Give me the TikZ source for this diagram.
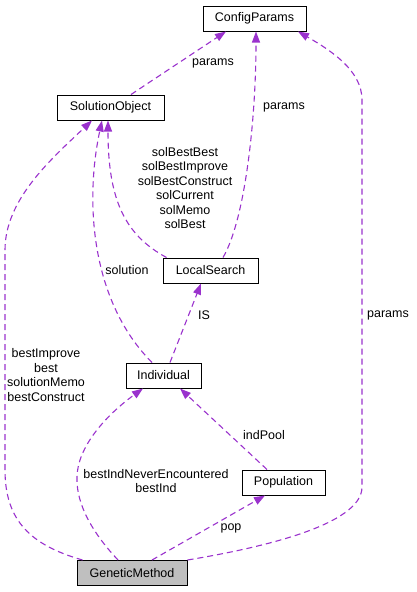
\documentclass[tikz,border=0pt]{standalone}
\usepackage{fontspec}
\setmainfont{Liberation Sans}
\usetikzlibrary{arrows.meta}
\definecolor{edgepurple}{HTML}{9A32CD}
\definecolor{boxgray}{HTML}{BFBFBF}

\begin{document}
\begin{tikzpicture}[
    x=1pt, y=-1pt,
    class_box/.style={rectangle, draw, line width=1pt, minimum height=25pt, inner sep=0pt, fill=white, font=\fontsize{12.5}{14.5}\selectfont},
    dep_arrow/.style={-{Triangle[length=11pt,width=8pt]}, edgepurple, line width=1.1pt, dash pattern=on 6pt off 4pt},
    edge_label/.style={align=center, inner sep=0pt, font=\fontsize{12.5}{14.5}\selectfont}
]
\useasboundingbox (0,0) rectangle (416,592);

\node (config) [class_box, minimum width=103pt] at (254.5,18.5) {ConfigParams};
\node (solobj) [class_box, minimum width=107pt] at (110.5,107.5) {SolutionObject};
\node (ls) [class_box, minimum width=95pt] at (210.5,270.5) {LocalSearch};
\node (indiv) [class_box, minimum width=75pt] at (163.5,375.5) {Individual};
\node (pop) [class_box, minimum width=83pt] at (283.5,482.5) {Population};
\node (gm) [class_box, minimum width=110pt, fill=boxgray] at (132,573) {GeneticMethod};

\draw [dep_arrow] ([xshift=20.5pt]solobj.north) -- ([xshift=-28.5pt]config.south);
\draw [dep_arrow] ([xshift=12.5pt]ls.north) .. controls (245,220) and (256,120) .. ([xshift=1.5pt]config.south);
\draw [dep_arrow] (gm.north east) .. controls (260,548) and (362,525) .. (362,487)
    -- (362,100) .. controls (362,70) and (330,50) .. ([xshift=43.5pt]config.south);
\draw [dep_arrow] ([xshift=4pt]ls.north west) .. controls (125,235) and (108,200) .. ([xshift=-2.5pt]solobj.south);
\draw [dep_arrow] ([xshift=-11.5pt]indiv.north) .. controls (90,300) and (85,200) .. ([xshift=-8.5pt]solobj.south);
\draw [dep_arrow] ([xshift=6pt]gm.north west) .. controls (30,545) and (5,520) .. (5,470)
    -- (5,250) .. controls (5,200) and (50,160) .. ([xshift=-18.5pt]solobj.south);
\draw [dep_arrow] ([xshift=6.5pt]indiv.north) -- ([xshift=-9.5pt]ls.south);
\draw [dep_arrow] ([xshift=-16.5pt]pop.north) -- ([xshift=16.5pt]indiv.south);
\draw [dep_arrow] ([xshift=-14pt]gm.north) .. controls (85,525) and (70,490) .. (80,460)
    .. controls (90,430) and (120,405) .. ([xshift=-20.5pt]indiv.south);
\draw [dep_arrow] ([xshift=20pt]gm.north) -- ([xshift=-18.5pt]pop.south);

\node (lbl_params_so) [edge_label] at (213,63) {params};
\node (lbl_params_ls) [edge_label] at (284,107) {params};
\node (lbl_params_gm) [edge_label] at (388,315) {params};
\node (lbl_sol) [edge_label] at (185,188) {solBestBest\\solBestImprove\\solBestConstruct\\solCurrent\\solMemo\\solBest};
\node (lbl_solution) [edge_label] at (127,270) {solution};
\node (lbl_is) [edge_label] at (204,315) {IS};
\node (lbl_best) [edge_label] at (46,375) {bestImprove\\best\\solutionMemo\\bestConstruct};
\node (lbl_pool) [edge_label] at (264,435) {indPool};
\node (lbl_bestind) [edge_label] at (156,481) {bestIndNeverEncountered\\bestInd};
\node (lbl_pop) [edge_label] at (231,528) {pop};
\end{tikzpicture}
\end{document}
